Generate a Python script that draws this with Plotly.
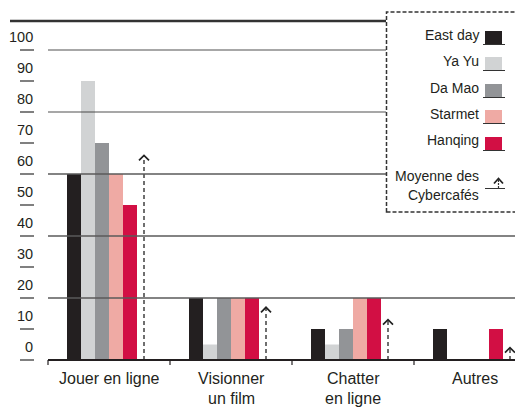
import plotly.graph_objects as go

# ---------------- data ----------------
categories = ["Jouer en ligne", "Visionner<br>un film", "Chatter<br>en ligne", "Autres"]
series_names = ["East day", "Ya Yu", "Da Mao", "Starmet", "Hanqing"]
east_day = [60, 20, 10, 10]
ya_yu = [90, 5, 5, 0]
da_mao = [70, 20, 10, 0]
starmet = [60, 20, 20, 0]
hanqing = [50, 20, 20, 10]
moyenne = [66, 17, 13, 4]
moyenne_label = ["Moyenne des", "Cybercafés"]
y_ticks = [0, 10, 20, 30, 40, 50, 60, 70, 80, 90, 100]
grid_vals = [100, 80, 60, 40, 20]

series_values = [east_day, ya_yu, da_mao, starmet, hanqing]
colors = ["#231f20", "#d1d3d4", "#929497", "#efaaa4", "#d20f44"]

# ---------------- geometry (screen px; page body has an 8px margin) ----------------
OFF = 8
W, H = 523 - OFF, 414 - OFF
CAT_W = 122.0          # px per category
CAT0 = 109.0 - OFF     # px centre of first category (figure coords)
Y0 = 360.0 - OFF       # px of value 0 (figure coords)
PPU = 3.1              # px per unit


def px(x):
    return (x - OFF) / W


def py(y):
    return 1 - (y - OFF) / H


bar_w = 14 / CAT_W
group_left = -42 / CAT_W
x_idx = list(range(len(categories)))

fig = go.Figure()
for k, (name, vals, col) in enumerate(zip(series_names, series_values, colors)):
    fig.add_trace(go.Bar(
        x=x_idx, y=vals, name=name, marker_color=col, marker_line_width=0,
        width=bar_w, offset=group_left + k * bar_w, showlegend=False,
    ))

# average arrows (dashed stems + chevron heads)
arrow_off = group_left + 5.5 * bar_w
sx, sy, hx, hy = [], [], [], []
d = 5 / CAT_W
h = 5 / PPU
for i, m in zip(x_idx, moyenne):
    xc = i + arrow_off
    sx += [xc, xc, None]
    sy += [0, m - 0.3, None]
    hx += [xc - d, xc, xc + d, None]
    hy += [m - h, m, m - h, None]
fig.add_trace(go.Scatter(x=sx, y=sy, mode="lines", showlegend=False,
                         line=dict(color="#333333", width=1.4, dash="4px,3px")))
fig.add_trace(go.Scatter(x=hx, y=hy, mode="lines", showlegend=False,
                         line=dict(color="#222222", width=1.7)))

shapes = []
annotations = []
FONT = "Liberation Sans, Arial, sans-serif"
TXT = "#231f20"

# top frame line
shapes.append(dict(type="line", xref="paper", yref="paper", x0=px(10), x1=px(386),
                   y0=py(21), y1=py(21), line=dict(color="#333333", width=2.5), layer="above"))
# gridlines (drawn over bars)
for v in grid_vals:
    ypix = 360 - v * PPU
    x1 = px(386) if ypix < 212 else 1
    if v >= 80:
        line = dict(color="rgba(50,50,50,0.85)", width=1.2)
    else:
        line = dict(color="rgba(90,90,90,0.75)", width=2)
    shapes.append(dict(type="line", xref="paper", yref="y", x0=px(48), x1=x1,
                       y0=v, y1=v, line=line, layer="above"))
# baseline
shapes.append(dict(type="line", xref="paper", yref="y", x0=px(48), x1=1, y0=0, y1=0,
                   line=dict(color="#231f20", width=2), layer="above"))
# category tick marks
for i in range(len(categories)):
    xt = i - 0.5
    shapes.append(dict(type="line", xref="x", yref="y", x0=xt, x1=xt, y0=0, y1=-5 / PPU,
                       line=dict(color="#231f20", width=1.2), layer="above"))

# y tick labels with dashes
for v in y_ticks:
    shapes.append(dict(type="line", xref="paper", yref="y", x0=px(20), x1=px(34),
                       y0=v, y1=v, line=dict(color="#808080", width=2)))
    annotations.append(dict(text=str(v), xref="paper", yref="y", x=px(35), y=v,
                            xanchor="right", yanchor="middle", yshift=13, showarrow=False,
                            font=dict(family=FONT, size=14.5, color=TXT)))

# category labels (one annotation per line for tight line spacing)
for i, c in zip(x_idx, categories):
    for j, part in enumerate(c.split("<br>")):
        annotations.append(dict(text=part, xref="x", yref="y", x=i, y=0, xanchor="center",
                                yanchor="middle", yshift=-18.5 - 20 * j, showarrow=False,
                                font=dict(family=FONT, size=16, color=TXT)))

# legend box
shapes.append(dict(type="rect", xref="paper", yref="paper", x0=px(386.5), x1=px(521.5),
                   y0=py(212), y1=py(12), fillcolor="white",
                   line=dict(color="#333333", width=1.5, dash="4px,2px"), layer="above"))
sw_top = [31, 57, 84, 110, 137]
txt_c = [35, 61, 88, 114, 140]
for name, col, t, tc in zip(series_names, colors, sw_top, txt_c):
    shapes.append(dict(type="rect", xref="paper", yref="paper", x0=px(485), x1=px(502),
                       y0=py(t + 13), y1=py(t), fillcolor=col, line=dict(width=0), layer="above"))
    shapes.append(dict(type="line", xref="paper", yref="paper", x0=px(483), x1=px(505),
                       y0=py(t + 13.5), y1=py(t + 13.5),
                       line=dict(color="#333333", width=1), layer="above"))
    annotations.append(dict(text=name, xref="paper", yref="paper", x=px(481), y=py(tc),
                            xanchor="right", yanchor="middle", showarrow=False,
                            font=dict(family=FONT, size=14, color=TXT)))
# legend arrow entry
for j, part in enumerate(moyenne_label):
    annotations.append(dict(text=part, xref="paper", yref="paper", x=px(481), y=py(176 + 19 * j),
                            xanchor="right", yanchor="middle", showarrow=False,
                            font=dict(family=FONT, size=14, color=TXT)))
shapes.append(dict(type="line", xref="paper", yref="paper", x0=px(498.5), x1=px(498.5),
                   y0=py(188), y1=py(180), line=dict(color="#333333", width=1.2, dash="2px,1px"),
                   layer="above"))
shapes.append(dict(type="path", xref="paper", yref="paper",
                   path=f"M {px(494)} {py(183.5)} L {px(498.5)} {py(178.5)} L {px(503)} {py(183.5)}",
                   line=dict(color="#222222", width=1.8), layer="above"))
shapes.append(dict(type="line", xref="paper", yref="paper", x0=px(485), x1=px(505),
                   y0=py(188.5), y1=py(188.5), line=dict(color="#333333", width=1), layer="above"))

fig.update_layout(
    width=W, height=H, margin=dict(l=0, r=0, t=0, b=0),
    paper_bgcolor="white", plot_bgcolor="white",
    barmode="overlay", showlegend=False,
    xaxis=dict(domain=[0, 1], range=[-CAT0 / CAT_W, (W - CAT0) / CAT_W],
               showgrid=False, zeroline=False, showticklabels=False, ticks="", fixedrange=True),
    yaxis=dict(domain=[0, 1], range=[-(H - Y0) / PPU, Y0 / PPU],
               showgrid=False, zeroline=False, showticklabels=False, ticks="", fixedrange=True),
    shapes=shapes, annotations=annotations,
)

fig.write_html("out.html")
